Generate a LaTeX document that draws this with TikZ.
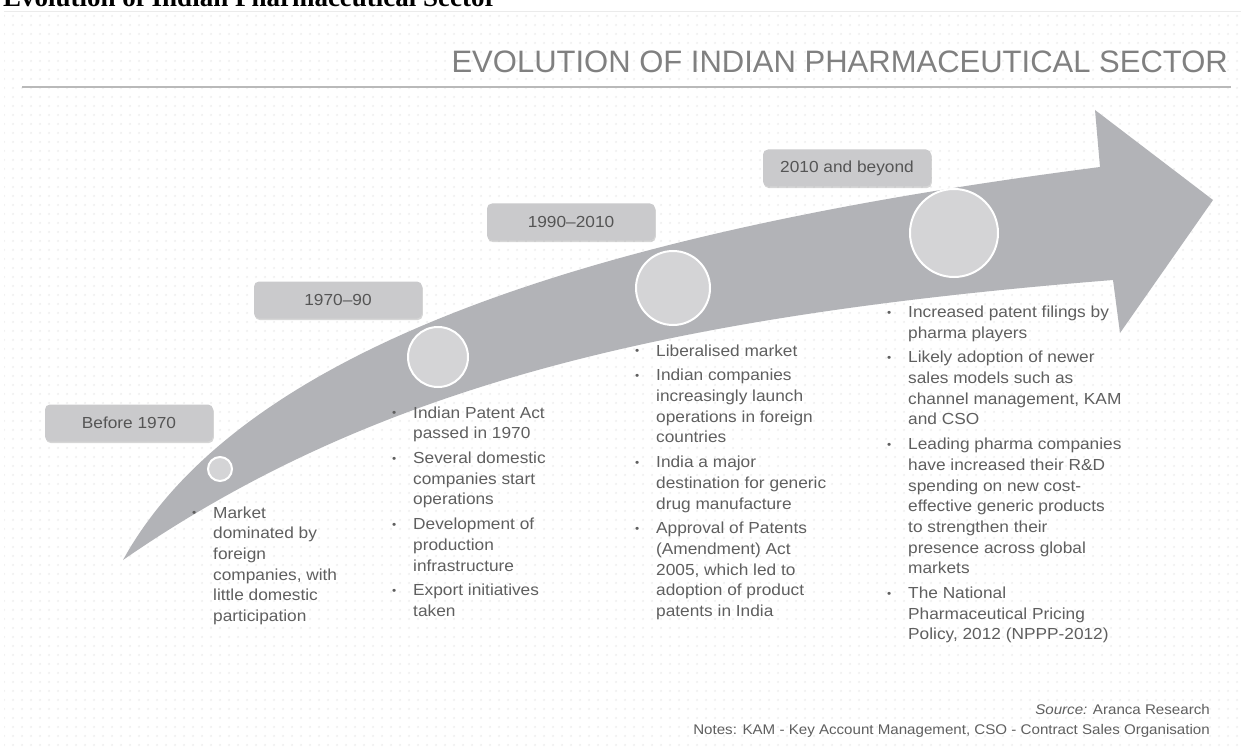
\documentclass[tikz,border=0pt]{standalone}
\usepackage{fontspec}
\setmainfont[FakeStretch=1.08]{Liberation Sans}
\newfontfamily\ttlfont{Liberation Sans}
\newfontfamily\headserif{Liberation Serif}
\usetikzlibrary{patterns.meta,shadows}
\definecolor{bandc}{RGB}{178,179,183}
\definecolor{circc}{RGB}{212,212,214}
\definecolor{boxc}{RGB}{202,202,204}
\definecolor{boxtxt}{RGB}{85,85,85}
\definecolor{txtc}{RGB}{95,95,95}
\definecolor{ttlc}{RGB}{128,128,128}
\definecolor{rulec}{RGB}{185,185,185}
\tikzdeclarepattern{name=bgdots,type=uncolored,bottom left={(0pt,0pt)},top right={(9pt,9pt)},tile size={(9pt,9pt)},code={\fill (4.5pt,4.5pt) circle (1.3pt);}}
\newcommand{\bul}{\raisebox{1.2pt}{\fontsize{11}{11}\selectfont\textbullet}}
\begin{document}
\begin{tikzpicture}[x=1pt,y=-1pt,
  period/.style={rounded corners=5pt, fill=boxc, minimum width=168pt, minimum height=37pt, inner sep=0pt, text=boxtxt, font=\fontsize{16}{18}\selectfont, drop shadow={shadow xshift=0.8pt, shadow yshift=-1.6pt, opacity=0.35, fill=black!45}},
  stop/.style={circle, fill=circc, draw=white, line width=2pt, inner sep=0pt},
  bullist/.style={anchor=north west, inner sep=0pt, text=txtc, font=\fontsize{16}{20.7}\selectfont},
  note/.style={anchor=base east, inner sep=0pt, text=txtc, font=\fontsize{14}{16}\selectfont}]
\useasboundingbox (0,0) rectangle (1243,749);
\fill[white] (0,0) rectangle (1243,749);
\fill[pattern=bgdots, pattern color=black!6] (4,12) rectangle (1241,749);
\draw[black!8] (4,11.5) -- (1241,11.5);
\begin{scope}
\clip (0,0) rectangle (1243,9);
\node[anchor=base west, inner sep=0pt, font=\headserif\bfseries\fontsize{27}{27}\selectfont] (head) at (3,7) {Evolution of Indian Pharmaceutical Sector};
\end{scope}
\node[anchor=base east, inner sep=0pt, text=ttlc, font=\ttlfont\fontsize{31}{31}\selectfont] (title) at (1228,73) {EVOLUTION OF INDIAN PHARMACEUTICAL SECTOR};
\draw[rulec, line width=1.3pt] (22,87) -- (1231,87);
% curved arrow
\fill[bandc] (123,560) .. controls (250,330) and (650,225) .. (1100,167)
  -- (1095,110) -- (1213,200) -- (1120,333) -- (1113,280)
  .. controls (663,316) and (373,387) .. (123,560) -- cycle;
% milestones
\node[stop, minimum size=24pt] (c1) at (220,469) {};
\node[stop, minimum size=60pt] (c2) at (438,357) {};
\node[stop, minimum size=74pt] (c3) at (673,288) {};
\node[stop, minimum size=88pt] (c4) at (954,233) {};
% period boxes
\node[period] (p1) at (129,423) {Before 1970};
\node[period] (p2) at (338,300) {1970--90};
\node[period] (p3) at (571,222) {1990--2010};
\node[period] (p4) at (847,168) {2010 and beyond};
% bullet lists
\node[bullist] (t1) at (192,503.5) {\begin{tabular}{@{}p{21pt}@{}l@{}}
\bul & Market\\
 & dominated by\\
 & foreign\\
 & companies, with\\
 & little domestic\\
 & participation
\end{tabular}};
\node[bullist] (t2) at (392,403.5) {\begin{tabular}{@{}p{21pt}@{}l@{}}
\bul & Indian Patent Act\\
 & passed in 1970\\[4pt]
\bul & Several domestic\\
 & companies start\\
 & operations\\[4pt]
\bul & Development of\\
 & production\\
 & infrastructure\\[4pt]
\bul & Export initiatives\\
 & taken
\end{tabular}};
\node[bullist] (t3) at (635,341.5) {\begin{tabular}{@{}p{21pt}@{}l@{}}
\bul & Liberalised market\\[4pt]
\bul & Indian companies\\
 & increasingly launch\\
 & operations in foreign\\
 & countries\\[4pt]
\bul & India a major\\
 & destination for generic\\
 & drug manufacture\\[4pt]
\bul & Approval of Patents\\
 & (Amendment) Act\\
 & 2005, which led to\\
 & adoption of product\\
 & patents in India
\end{tabular}};
\node[bullist] (t4) at (887,302.8) {\begin{tabular}{@{}p{21pt}@{}l@{}}
\bul & Increased patent filings by\\
 & pharma players\\[4pt]
\bul & Likely adoption of newer\\
 & sales models such as\\
 & channel management, KAM\\
 & and CSO\\[4pt]
\bul & Leading pharma companies\\
 & have increased their R\&D\\
 & spending on new cost-\\
 & effective generic products\\
 & to strengthen their\\
 & presence across global\\
 & markets\\[4pt]
\bul & The National\\
 & Pharmaceutical Pricing\\
 & Policy, 2012 (NPPP-2012)
\end{tabular}};
% source and notes
\node[note] (src) at (1210,714) {\textit{Source:} Aranca Research};
\node[note] (notes) at (1210,734) {Notes: KAM - Key Account Management, CSO - Contract Sales Organisation};
\end{tikzpicture}
\end{document}
